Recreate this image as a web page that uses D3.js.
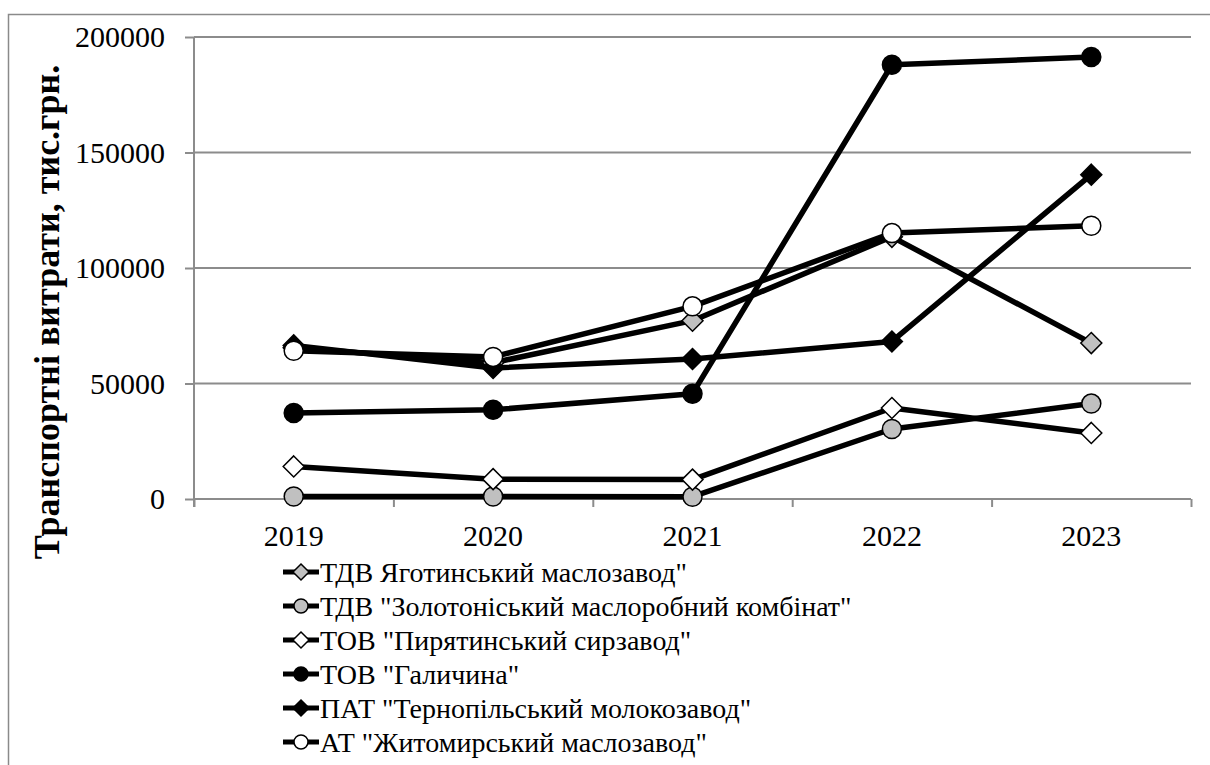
<!DOCTYPE html>
<html>
<head>
<meta charset="utf-8">
<script src="https://cdn.jsdelivr.net/npm/d3@7"></script>
<style>
  html, body { margin: 0; padding: 0; background: #fff; }
</style>
</head>
<body>
<svg id="chart" width="1210" height="765"></svg>
<script>
(function () {
  const width = 1210;
  const height = 765;
  const serif = "'Times New Roman'";

  // data (тис.грн.)
  const years = ["2019", "2020", "2021", "2022", "2023"];
  const yTicks = [0, 50000, 100000, 150000, 200000];
  const seriesNames = [
    "ТДВ Яготинський маслозавод\"",
    "ТДВ \"Золотоніський маслоробний комбінат\"",
    "ТОВ \"Пирятинський сирзавод\"",
    "ТОВ \"Галичина\"",
    "ПАТ \"Тернопільський молокозавод\"",
    "АТ \"Житомирський маслозавод\""
  ];
  const yagotyn = [65500, 59000, 77200, 113500, 67500];
  const zolotonosha = [1100, 1100, 1000, 30300, 41300];
  const pyriatyn = [14100, 8600, 8400, 39400, 28600];
  const halychyna = [37200, 38600, 45600, 188000, 191300];
  const ternopil = [66500, 56700, 60600, 68200, 140400];
  const zhytomyr = [64200, 61500, 83400, 115100, 118300];

  const values = [yagotyn, zolotonosha, pyriatyn, halychyna, ternopil, zhytomyr];
  const markers = [
    {shape: "diamond", fill: "#c0c0c0"},
    {shape: "circle", fill: "#c0c0c0"},
    {shape: "diamond", fill: "#ffffff"},
    {shape: "circle", fill: "#000000"},
    {shape: "diamond", fill: "#000000"},
    {shape: "circle", fill: "#ffffff"}
  ];

  const plot = {left: 194, right: 1191, top: 37, bottom: 499};
  const gridColor = "#8c8c8c";

  const svg = d3.select("#chart");

  // outer frame (only top and left edges are in view)
  svg.append("path")
    .attr("d", "M8.5," + height + "V14.5H" + width)
    .attr("fill", "none")
    .attr("stroke", "#8a8a8a")
    .attr("stroke-width", 1.5);

  const y = d3.scaleLinear()
    .domain([0, 200000])
    .range([plot.bottom, plot.top]);

  const x = d3.scalePoint()
    .domain(years)
    .range([plot.left, plot.right])
    .padding(0.5);

  const xEdges = d3.scaleLinear()
    .domain([0, years.length])
    .range([plot.left, plot.right]);

  // gridlines
  svg.append("g")
    .selectAll("line")
    .data(yTicks.filter(function (d) { return d > 0; }))
    .join("line")
    .attr("x1", plot.left)
    .attr("x2", plot.right)
    .attr("y1", function (d) { return y(d); })
    .attr("y2", function (d) { return y(d); })
    .attr("stroke", gridColor)
    .attr("stroke-width", 2);

  // y axis: ticks only, labels drawn below as plain text
  const yAxis = svg.append("g")
    .attr("transform", "translate(" + plot.left + ",0)")
    .call(d3.axisLeft(y).tickValues(yTicks).tickSize(9).tickFormat(""));
  yAxis.selectAll("path, line").attr("stroke", gridColor).attr("stroke-width", 2);
  yAxis.select(".domain").attr("d", "M0," + plot.top + "V" + (plot.bottom + 8));

  svg.append("g")
    .selectAll("text")
    .data(yTicks)
    .join("text")
    .attr("x", plot.left - 29)
    .attr("y", function (d) { return y(d) + 10; })
    .attr("text-anchor", "end")
    .style("font-family", serif)
    .attr("font-size", 30)
    .text(function (d) { return d3.format("d")(d); });

  // x axis: tick marks between categories
  const xAxis = svg.append("g")
    .attr("transform", "translate(0," + plot.bottom + ")")
    .call(d3.axisBottom(xEdges).tickValues(d3.range(years.length + 1))
      .tickSize(8).tickFormat(""));
  xAxis.selectAll("path, line").attr("stroke", gridColor).attr("stroke-width", 2);
  xAxis.select(".domain").attr("d", "M" + plot.left + ",0H" + plot.right);

  svg.append("g")
    .selectAll("text")
    .data(years)
    .join("text")
    .attr("x", function (d) { return x(d); })
    .attr("y", plot.bottom + 47)
    .attr("text-anchor", "middle")
    .style("font-family", serif)
    .attr("font-size", 30)
    .text(function (d) { return d; });

  // y axis title
  svg.append("text")
    .attr("transform", "translate(59,312) rotate(-90)")
    .attr("text-anchor", "middle")
    .style("font-family", serif)
    .attr("font-size", 36)
    .attr("font-weight", "bold")
    .text("Транспортні витрати, тис.грн.");

  function drawMarker(g, m, size) {
    if (m.shape === "circle") {
      g.append("circle")
        .attr("r", size)
        .attr("fill", m.fill)
        .attr("stroke", "#000")
        .attr("stroke-width", 1.5);
    } else {
      const s = size + 1;
      g.append("path")
        .attr("d", "M0," + (-s) + "L" + s + ",0L0," + s + "L" + (-s) + ",0Z")
        .attr("fill", m.fill)
        .attr("stroke", "#000")
        .attr("stroke-width", 1.5);
    }
  }

  const line = d3.line()
    .x(function (d, i) { return x(years[i]); })
    .y(function (d) { return y(d); });

  values.forEach(function (vals, si) {
    const g = svg.append("g").attr("class", "series");
    g.append("path")
      .attr("d", line(vals))
      .attr("fill", "none")
      .attr("stroke", "#000")
      .attr("stroke-width", 5.5)
      .attr("stroke-linejoin", "round");
    vals.forEach(function (v, i) {
      const mg = g.append("g")
        .attr("transform", "translate(" + x(years[i]) + "," + y(v) + ")");
      drawMarker(mg, markers[si], 9.5);
    });
  });

  // legend
  const legend = svg.append("g")
    .attr("transform", "translate(283,572)");
  seriesNames.forEach(function (name, i) {
    const row = legend.append("g")
      .attr("transform", "translate(0," + (i * 34) + ")");
    row.append("line")
      .attr("x1", 0)
      .attr("x2", 36)
      .attr("stroke", "#000")
      .attr("stroke-width", 5);
    const mg = row.append("g").attr("transform", "translate(18,0)");
    drawMarker(mg, markers[i], 7);
    row.append("text")
      .attr("x", 37)
      .attr("y", 10)
      .style("font-family", serif)
      .attr("font-size", 28)
      .text(name);
  });
})();
</script>
</body>
</html>
